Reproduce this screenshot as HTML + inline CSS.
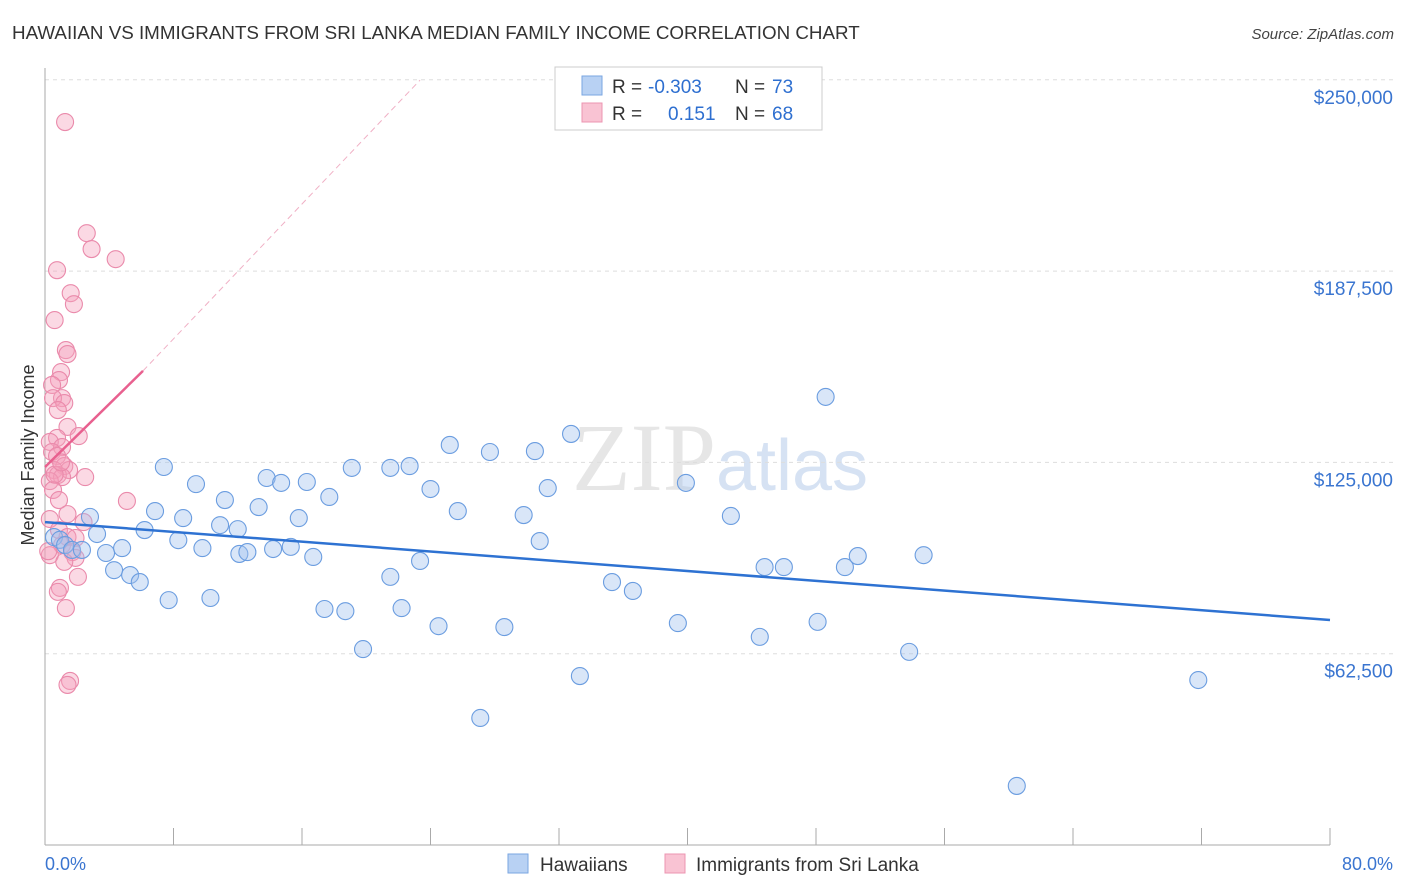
<!DOCTYPE html>
<html><head><meta charset="utf-8"><style>
body{margin:0;background:#fff;font-family:"Liberation Sans",sans-serif;}
svg{display:block}
</style></head><body>
<svg id="chart" width="1406" height="892" xmlns="http://www.w3.org/2000/svg">
<text x="12" y="39" font-size="18.8" fill="#333">HAWAIIAN VS IMMIGRANTS FROM SRI LANKA MEDIAN FAMILY INCOME CORRELATION CHART</text>
<text x="1394" y="39" font-size="15" fill="#444" text-anchor="end" font-style="italic">Source: ZipAtlas.com</text>
<text x="720" y="490" font-size="96" text-anchor="middle" fill="#e6e6e6" font-family="Liberation Serif,serif">ZIP<tspan fill="#d6e2f3" font-family="Liberation Sans,sans-serif" font-size="72">atlas</tspan></text>
<g id="grid"></g><g id="axes"></g><g id="pts"></g><g id="lines"></g>
<text transform="translate(34,455) rotate(-90)" font-size="18" fill="#333" text-anchor="middle">Median Family Income</text>
<text x="45" y="870" font-size="18" fill="#3a75d0">0.0%</text>
<text x="1393" y="870" font-size="18" fill="#3a75d0" text-anchor="end">80.0%</text>
<g>
<rect x="555" y="67" width="267" height="63" fill="#fff" stroke="#ccc"/>
<rect x="582" y="76" width="20" height="19" fill="#b8d1f3" stroke="#7aa6e2"/>
<rect x="582" y="103" width="20" height="19" fill="#f9c3d3" stroke="#ec95b1"/>
<text x="612" y="93" font-size="19" fill="#333">R = <tspan fill="#2e6fd0" x="648">-0.303</tspan><tspan x="735">N = </tspan><tspan fill="#2e6fd0" x="772">73</tspan></text>
<text x="612" y="120" font-size="19" fill="#333">R = <tspan fill="#2e6fd0" x="668">0.151</tspan><tspan x="735">N = </tspan><tspan fill="#2e6fd0" x="772">68</tspan></text>
</g>
<g>
<rect x="508" y="854" width="20" height="19" fill="#b8d1f3" stroke="#7aa6e2"/>
<text x="540" y="871" font-size="19" fill="#333">Hawaiians</text>
<rect x="665" y="854" width="20" height="19" fill="#f9c3d3" stroke="#ec95b1"/>
<text x="696" y="871" font-size="19" fill="#333">Immigrants from Sri Lanka</text>
</g>
</svg>
<script>
const blueX=[0.56,0.93,1.25,1.68,2.3,2.8,3.24,3.8,4.3,4.8,5.3,5.9,6.2,6.85,7.4,7.7,8.3,8.6,9.4,9.8,10.3,10.9,11.2,12.0,12.1,12.6,13.3,13.8,14.2,14.7,15.3,15.8,16.3,16.7,17.4,17.7,18.7,19.1,19.8,21.5,21.5,22.2,22.7,23.35,24.0,24.5,25.2,25.7,27.1,27.7,28.6,29.8,30.5,30.8,31.3,32.75,33.3,35.3,36.6,39.4,39.9,42.7,44.5,44.8,46.0,48.1,48.6,49.8,50.6,53.8,54.7,60.5,71.8];
const blueY=[100.6,99.7,98.0,96.4,96.4,107.2,101.6,95.4,89.8,97.0,88.2,85.9,102.9,109.1,123.5,80.0,99.6,106.8,117.9,97.0,80.7,104.5,112.7,103.2,95.1,95.7,110.4,119.9,96.7,118.3,97.4,106.8,118.6,94.1,77.1,113.7,76.4,123.2,64.0,123.2,87.6,77.4,123.8,92.8,116.3,71.5,130.7,109.1,41.5,128.4,71.2,107.8,128.7,99.3,116.6,134.3,55.2,85.9,83.0,72.5,118.3,107.5,68.0,90.8,90.8,72.9,146.4,90.8,94.4,63.1,94.7,19.3,53.9];
const pinkX=[1.25,2.6,2.9,4.4,0.75,1.6,1.8,0.6,1.3,1.4,1.0,0.87,0.44,1.06,0.5,1.2,0.8,1.4,2.1,0.75,0.3,1.06,0.44,0.75,1.2,0.56,1.5,0.8,1.06,2.5,0.3,0.5,0.87,5.1,1.4,0.3,2.4,0.87,1.4,1.9,1.06,1.7,0.3,1.9,1.2,2.05,0.93,0.8,1.3,1.56,1.4,0.2,0.6,1.0];
const pinkY=[236.2,199.9,194.7,191.4,187.8,180.3,176.7,171.5,161.7,160.4,154.5,151.9,150.3,146.0,146.0,144.4,142.1,136.6,133.6,133.0,131.7,130.0,128.4,127.1,123.8,122.5,122.5,120.9,120.2,120.2,118.9,116.0,112.7,112.4,108.1,106.5,105.5,102.9,100.6,100.3,98.0,95.7,94.7,93.8,92.5,87.6,84.0,82.7,77.4,53.6,52.3,96.0,121.0,125.0];
const yTicks=[62.5,125,187.5,250];
const yTickLabels=["$62,500","$125,000","$187,500","$250,000"];
const blueTrend=[105.5,73.5];
const pinkTrend=[123.5,154.9,6.1];
const pinkDashEnd=[23.35,249.9];

const NS="http://www.w3.org/2000/svg";
const xs=v=>45+v/80*1285;
const ys=v=>845-v/62.5*191.3;
function mk(tag,attrs,parent){const e=document.createElementNS(NS,tag);for(const k in attrs)e.setAttribute(k,attrs[k]);parent.appendChild(e);return e;}
const grid=document.getElementById('grid'),axes=document.getElementById('axes'),pts=document.getElementById('pts'),lines=document.getElementById('lines');
yTicks.forEach((t,i)=>{
  const l=mk('line',{x1:45,x2:1393,y1:ys(t),y2:ys(t),stroke:'#ddd','stroke-dasharray':'4,4'},grid);
  
  
  const tx=mk('text',{x:1393,y:ys(t)+24,'font-size':19,fill:'#3a75d0','text-anchor':'end'},grid);
  tx.textContent=yTickLabels[i];
  
  
});
let a=mk('line',{x1:45,x2:45,y1:68,y2:845,stroke:'#aaa'},axes);


a=mk('line',{x1:45,x2:1330,y1:845,y2:845,stroke:'#aaa'},axes);


for(let i=0;i<=10;i++){const t=mk('line',{x1:xs(i*8),x2:xs(i*8),y1:828,y2:845,stroke:'#aaa'},axes);
  
  }
pinkX.forEach((x,i)=>{const c=mk('circle',{cx:xs(x),cy:ys(pinkY[i]),r:8.5,fill:'rgba(244,160,188,0.4)',stroke:'#ea8aab','stroke-width':1.1},pts);
  
  });
blueX.forEach((x,i)=>{const c=mk('circle',{cx:xs(x),cy:ys(blueY[i]),r:8.5,fill:'rgba(160,193,238,0.4)',stroke:'#6b9de0','stroke-width':1.1},pts);
  
  });
let ln=mk('line',{x1:xs(0),y1:ys(blueTrend[0]),x2:xs(80),y2:ys(blueTrend[1]),stroke:'#2e72d2','stroke-width':2.5},lines);


ln=mk('line',{x1:xs(pinkTrend[2]),y1:ys(pinkTrend[1]),x2:xs(pinkDashEnd[0]),y2:ys(pinkDashEnd[1]),stroke:'#f0b0c5','stroke-width':1,'stroke-dasharray':'6,4'},lines);


ln=mk('line',{x1:xs(0),y1:ys(pinkTrend[0]),x2:xs(pinkTrend[2]),y2:ys(pinkTrend[1]),stroke:'#e8608f','stroke-width':2.5},lines);


</script>
</body></html>
